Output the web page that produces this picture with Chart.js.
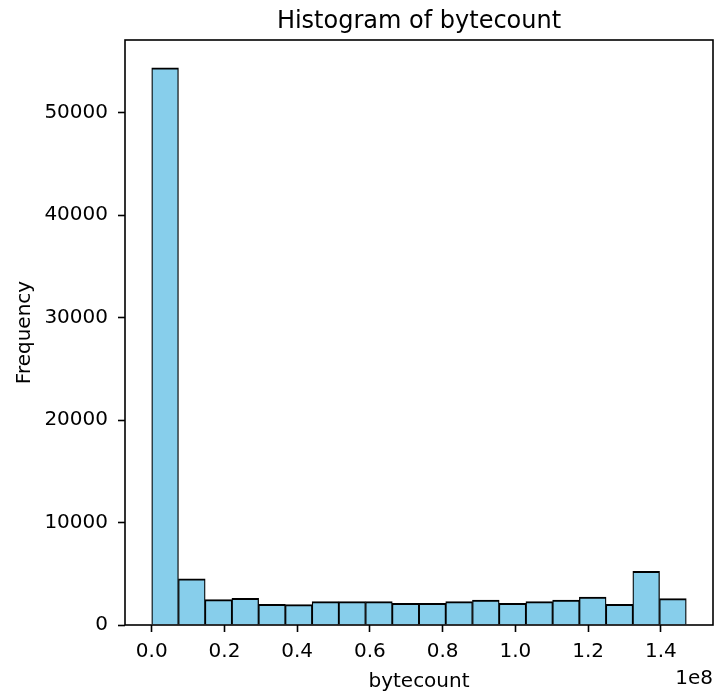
<!DOCTYPE html>
<html><head><meta charset="utf-8">
<script src="https://cdn.jsdelivr.net/npm/chart.js@4.4.0/dist/chart.umd.min.js"></script>
<style>html,body{margin:0;padding:0;background:#fff}#wrap{width:715px;height:696px}</style>
</head><body><div id="wrap"><canvas id="c" width="715" height="696"></canvas></div>
<script>
const titleText = 'Histogram of bytecount';
const xLabel = 'bytecount';
const yLabel = 'Frequency';
const offsetText = '1e8';
const binMin = 0;
const binMax = 1.47e8;
const counts = [54370, 4517, 2471, 2602, 2016, 1990, 2276, 2276, 2276, 2114, 2114, 2276, 2439, 2114, 2276, 2439, 2732, 2016, 5236, 2569];
const xTickValues = [0, 2e7, 4e7, 6e7, 8e7, 1e8, 1.2e8, 1.4e8];
const xTickLabels = ['0.0', '0.2', '0.4', '0.6', '0.8', '1.0', '1.2', '1.4'];
const yTickValues = [0, 10000, 20000, 30000, 40000, 50000];
const yTickLabels = ['0', '10000', '20000', '30000', '40000', '50000'];

const nBins = counts.length;
const binWidth = (binMax - binMin) / nBins;
const points = counts.map((c, i) => ({ x: binMin + (i + 0.5) * binWidth, y: c }));
const range = binMax - binMin;

const FONT = '"DejaVu Sans", "Liberation Sans", sans-serif';
Chart.defaults.font.family = FONT;
Chart.defaults.color = '#000';

const frame = {
  id: 'frame',
  afterDraw(chart) {
    const { ctx, chartArea: a } = chart;
    ctx.save();
    ctx.strokeStyle = '#000';
    ctx.lineWidth = 1.6;
    ctx.strokeRect(a.left, a.top, a.right - a.left, a.bottom - a.top);
    ctx.fillStyle = '#000';
    ctx.font = '24px ' + FONT;
    ctx.textAlign = 'center';
    ctx.textBaseline = 'alphabetic';
    ctx.fillText(titleText, (a.left + a.right) / 2, a.top - 12.5);
    ctx.font = '20px ' + FONT;
    ctx.textAlign = 'right';
    ctx.fillText(offsetText, a.right, a.bottom + 59);
    ctx.restore();
  }
};

new Chart(document.getElementById('c'), {
  type: 'bar',
  data: {
    datasets: [{
      data: points,
      backgroundColor: '#87CEEB',
      borderColor: '#000',
      borderWidth: { top: 2, left: 1.3, right: 1.3, bottom: 0 },
      borderSkipped: false,
      barPercentage: 1,
      categoryPercentage: 1
    }]
  },
  options: {
    responsive: false,
    animation: false,
    devicePixelRatio: 1,
    layout: { padding: { top: 40, right: 2, left: 0, bottom: 0 } },
    plugins: { legend: { display: false }, tooltip: { enabled: false }, title: { display: false } },
    scales: {
      x: {
        type: 'linear',
        offset: false,
        min: binMin - 0.05 * range,
        max: binMax + 0.05 * range,
        afterBuildTicks: (s) => { s.ticks = xTickValues.map(v => ({ value: v })); },
        afterFit: (s) => { s.height = 71; },
        ticks: {
          font: { size: 20 },
          color: '#000',
          padding: 7.5,
          maxRotation: 0,
          autoSkip: false,
          callback: (v) => { const i = xTickValues.indexOf(v); return i >= 0 ? xTickLabels[i] : ''; }
        },
        grid: { display: true, drawOnChartArea: false, drawTicks: true, tickLength: 7, tickWidth: 1.6, tickColor: '#000', offset: false },
        border: { display: false },
        title: { display: true, text: xLabel, font: { size: 20 }, color: '#000', padding: { top: 0, bottom: 2.4 } }
      },
      y: {
        type: 'linear',
        min: 0,
        max: Math.max(...counts) * 1.05,
        afterBuildTicks: (s) => { s.ticks = yTickValues.map(v => ({ value: v })); },
        afterFit: (s) => { s.width = 125; },
        ticks: {
          font: { size: 20 },
          color: '#000',
          padding: 10,
          autoSkip: false,
          callback: (v) => { const i = yTickValues.indexOf(v); return i >= 0 ? yTickLabels[i] : ''; }
        },
        grid: { display: true, drawOnChartArea: false, drawTicks: true, tickLength: 7, tickWidth: 1.6, tickColor: '#000' },
        border: { display: false },
        title: { display: true, text: yLabel, font: { size: 20 }, color: '#000', padding: { top: 12.5, bottom: 0 } }
      }
    }
  },
  plugins: [frame]
});
</script>
</body></html>
